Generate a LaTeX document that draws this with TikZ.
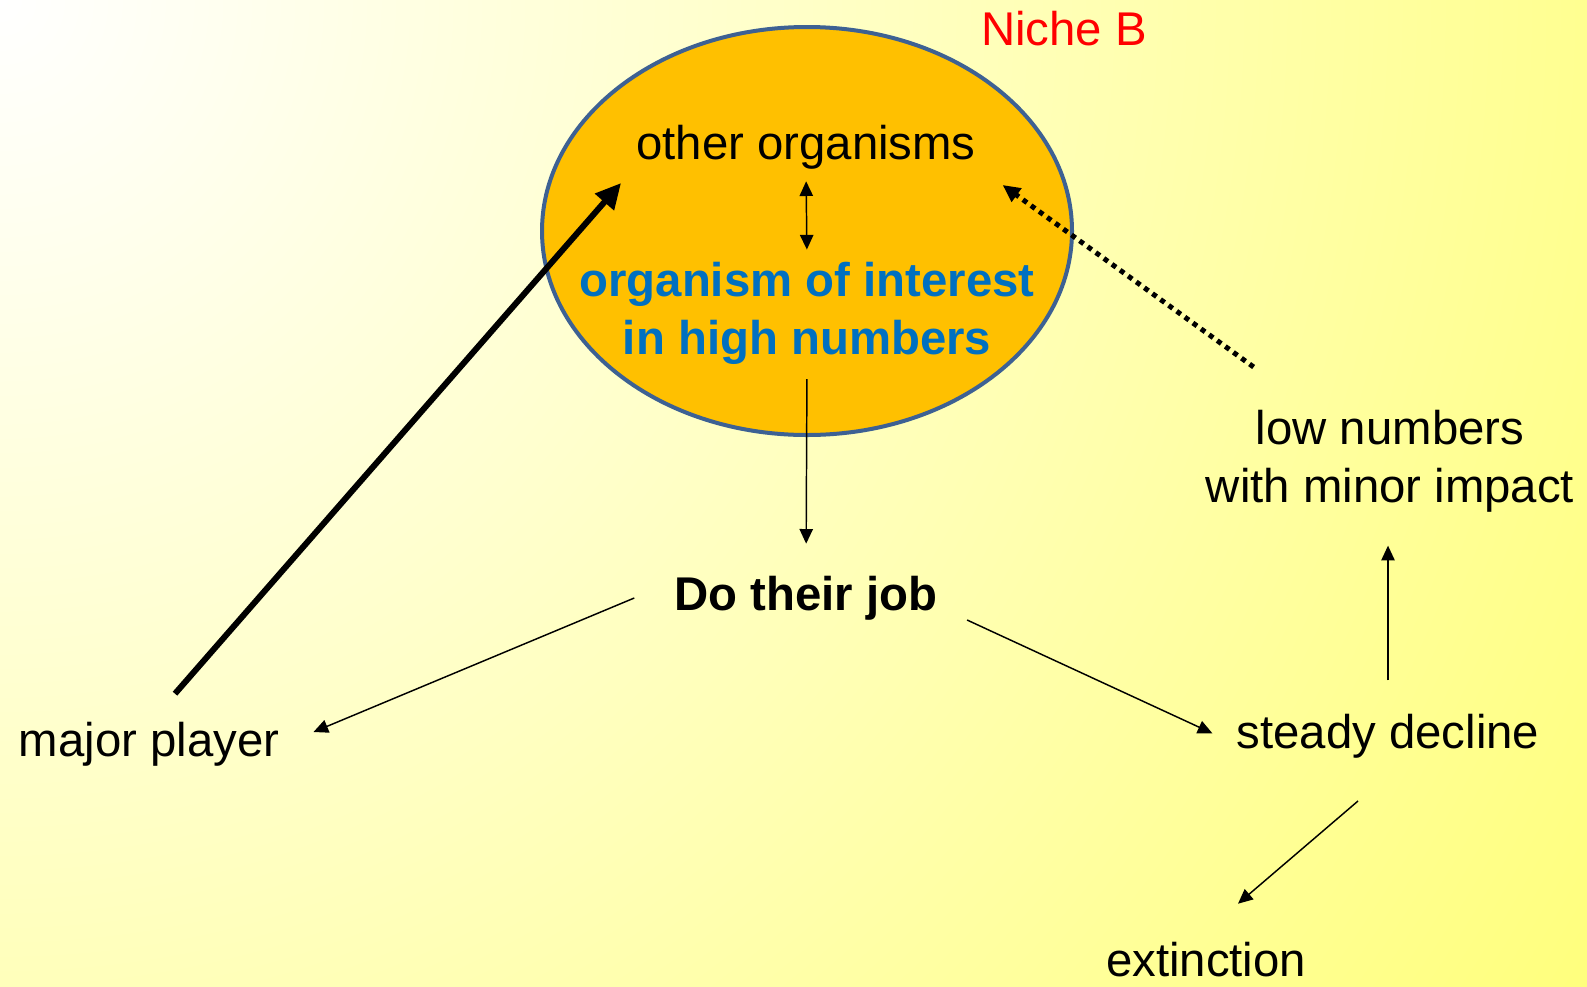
\documentclass[tikz,border=0pt]{standalone}
\usepackage{fontspec}
\setmainfont{Liberation Sans}
\usetikzlibrary{arrows.meta,positioning,shapes.geometric}
\definecolor{bgyellow}{HTML}{FFFF66}
\definecolor{nichefill}{HTML}{FFC000}
\definecolor{nicheline}{HTML}{3D6193}
\definecolor{oiblue}{HTML}{0070C0}

\begin{document}
\begin{tikzpicture}[x=0.75pt, y=-0.75pt, >={Triangle[length=11pt,width=10pt]},
  t/.style={inner sep=0pt, align=center, font=\fontsize{35.5}{43.5}\selectfont},
  tb/.style={t, font=\fontsize{35.5}{43.5}\selectfont\bfseries},
  a/.style={->, line width=1.1pt},
  big/.style={->, line width=4.5pt, >={Triangle[length=19pt,width=18pt]}},
  dots/.style={->, line width=3.75pt, dash pattern=on 3.75pt off 3.75pt,
               >={Triangle[length=13pt,width=12pt]}}]
\useasboundingbox (0,0) rectangle (1587,986);
% background
\begin{scope}
\clip (0,0) rectangle (1587,986);
\shade[overlay, inner color=white, outer color=bgyellow] (0,0) circle (2200);
\end{scope}

\node[ellipse, draw=nicheline, line width=3pt, fill=nichefill, inner sep=0pt,
      minimum width=397.5pt, minimum height=306pt] (niche) at (807,231) {};
\node[t, text=red] (nicheb) at (1064,29) {Niche B};
\node[t] (other) at (806,147) {other organisms};
\node[tb, text=oiblue] (oi) at (807,313) {organism of interest\\in high numbers};
\node[tb] (job) at (806,598) {Do their job};
\node[t] (major) at (149,744) {major player};
\node[t] (steady) at (1388,736) {steady decline};
\node[t] (low) at (1390,461) {low numbers\\with minor impact};
\node[t] (ext) at (1206,960) {extinction};

\draw[a, <->, shorten <=9pt, shorten >=9pt] (other.south) -- (oi.north);
\draw[a, shorten <=11pt, shorten >=24pt] (oi.south) -- (job.north);
\draw[a] ([xshift=-30pt]job.west) -- ([xshift=25.5pt,yshift=9pt]major.east);
\draw[a] ([xshift=22pt,yshift=-16.5pt]job.east) -- ([xshift=-18pt,yshift=2pt]steady.west);
\draw[a, shorten <=25pt, shorten >=25pt] (steady.north) -- (steady.north |- low.south);
\draw[a] ([xshift=-22.5pt,yshift=-32pt]steady.south) -- ([xshift=24pt,yshift=29pt]ext.north);
\draw[big] ([xshift=19.5pt,yshift=21pt]major.north) -- ([xshift=-11.25pt,yshift=-27pt]other.west);
\draw[dots] ([xshift=36pt,yshift=32pt]low.north west) -- ([xshift=20pt,yshift=-28.5pt]other.east);
\end{tikzpicture}
\end{document}
